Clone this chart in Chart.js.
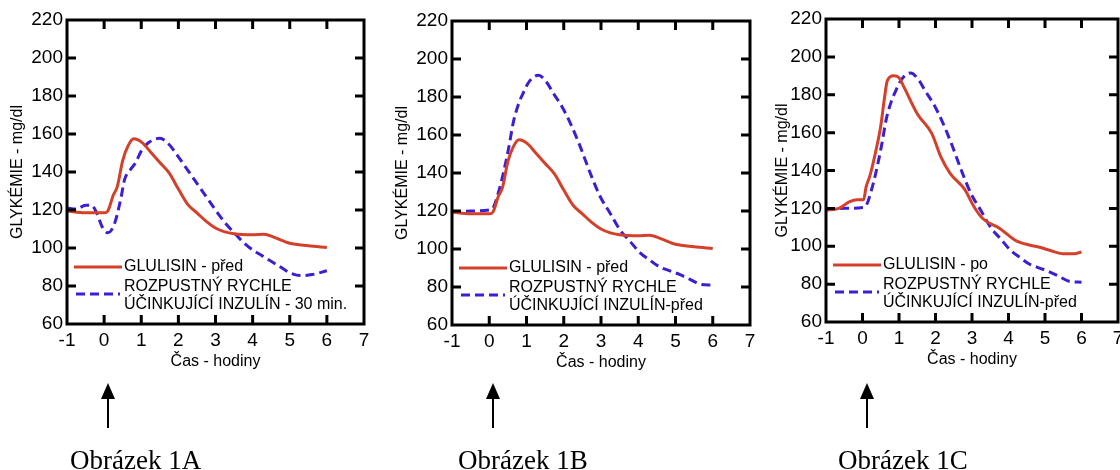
<!DOCTYPE html>
<html>
<head>
<meta charset="utf-8">
<script src="https://cdn.jsdelivr.net/npm/chart.js@4.4.1/dist/chart.umd.min.js"></script>
<style>
  html, body { margin: 0; padding: 0; background: #fff; }
  body { position: relative; width: 1120px; height: 470px; overflow: hidden; }
  canvas { position: absolute; top: 0; }
</style>
</head>
<body>
<canvas id="c0" width="380" height="470"></canvas>
<canvas id="c1" width="380" height="470"></canvas>
<canvas id="c2" width="380" height="470"></canvas>
<script>
// values (time in hours, glycaemia in mg/dl)
const glulisinPredT = [-1, -0.5, 0, 0.1, 0.25, 0.35, 0.5, 0.65, 0.8, 0.9, 1.05, 1.25, 1.5, 1.75, 2.0, 2.25, 2.5, 2.75, 3.0, 3.25, 3.5, 4.0, 4.3, 4.6, 5.0, 5.5, 6.0];
const glulisinPred  = [119.5, 118.5, 118.5, 119.5, 128, 132, 146, 154, 157.5, 157, 155, 150.5, 145, 139.5, 131, 123, 118.5, 114, 110.5, 108.5, 107.5, 107, 107.2, 105.5, 102.5, 101.2, 100.3];

const rozpustny30T = [-1, -0.75, -0.5, -0.35, -0.2, -0.05, 0.1, 0.2, 0.3, 0.45, 0.55, 0.7, 0.85, 1.0, 1.2, 1.5, 1.75, 2.0, 2.25, 2.5, 2.75, 3.0, 3.25, 3.5, 3.75, 4.0, 4.25, 4.5, 4.75, 5.0, 5.3, 5.6, 6.0];
const rozpustny30  = [121, 120.5, 122.5, 122.5, 118.5, 111, 108, 109.5, 114, 126, 136, 141, 145, 151, 155.5, 157.7, 154.5, 148, 141, 134, 127, 120, 113.5, 108, 103, 99, 96, 93, 90, 87, 85.5, 86, 88];

const rozpustnyPredT = [-1, -0.5, 0, 0.1, 0.25, 0.38, 0.52, 0.65, 0.79, 0.92, 1.05, 1.19, 1.32, 1.55, 1.72, 1.95, 2.17, 2.44, 2.71, 2.98, 3.24, 3.51, 3.78, 4.05, 4.32, 4.58, 4.85, 5.12, 5.39, 5.66, 6.0];
const rozpustnyPred  = [119.5, 120, 120.5, 121.5, 130, 140, 153, 167, 176.5, 182.5, 187.5, 190.5, 191.5, 187.5, 182, 175, 166.5, 154, 140, 127.5, 119, 110, 104, 98, 94, 90.5, 88.5, 86.5, 84, 81.5, 81];

const glulisinPoT = [-1, -0.65, -0.35, -0.15, 0.03, 0.1, 0.2, 0.35, 0.5, 0.6, 0.68, 0.85, 1.0, 1.15, 1.5, 1.9, 2.15, 2.4, 2.8, 3.05, 3.3, 3.75, 4.2, 4.6, 4.85, 5.1, 5.5, 5.8, 6.0];
const glulisinPo  = [119, 120, 123.5, 124.5, 124.5, 131.5, 137, 149, 163.5, 178, 187.5, 190, 189, 183.5, 170, 159.5, 147, 138.5, 130, 121, 114.5, 109.5, 103, 100.5, 99.5, 98, 96, 96, 97];

const xMin = -1, xMax = 7, xStep = 1;
const yMin = 60, yMax = 220, yStep = 20;

const redLine = 'rgb(212, 64, 42)';
const blueLine = 'rgb(60, 30, 212)';
const sans = '"Liberation Sans", Arial, sans-serif';

function pts(t, v) {
  return t.map((x, i) => ({x: x, y: v[i]}));
}
function redSet(label, t, v) {
  return {label: label, data: pts(t, v), borderColor: redLine, borderWidth: 3,
    pointRadius: 0, cubicInterpolationMode: 'monotone', fill: false};
}
function blueSet(label, t, v) {
  return {label: label, data: pts(t, v), borderColor: blueLine, borderWidth: 3,
    borderDash: [9, 5], pointRadius: 0, cubicInterpolationMode: 'monotone', fill: false};
}

const panels = [
  {id: 'c0', left: 0, plotLeft: 67, plotRight: 364, plotTop: 20, plotBottom: 324, titlePad: 9, caption: 'Obrázek 1A', capX: 70,
   sets: [redSet(['GLULISIN - před'], glulisinPredT, glulisinPred),
          blueSet(['ROZPUSTNÝ RYCHLE', 'ÚČINKUJÍCÍ INZULÍN - 30 min.'], rozpustny30T, rozpustny30)]},
  {id: 'c1', left: 385, plotLeft: 452, plotRight: 750, plotTop: 21, plotBottom: 325, titlePad: 9, caption: 'Obrázek 1B', capX: 458,
   sets: [redSet(['GLULISIN - před'], glulisinPredT, glulisinPred),
          blueSet(['ROZPUSTNÝ RYCHLE', 'ÚČINKUJÍCÍ INZULÍN-před'], rozpustnyPredT, rozpustnyPred)]},
  {id: 'c2', left: 759, plotLeft: 826, plotRight: 1118, plotTop: 19, plotBottom: 322, titlePad: 15, caption: 'Obrázek 1C', capX: 838,
   sets: [redSet(['GLULISIN - po'], glulisinPoT, glulisinPo),
          blueSet(['ROZPUSTNÝ RYCHLE', 'ÚČINKUJÍCÍ INZULÍN-před'], rozpustnyPredT, rozpustnyPred)]}
];

// box around plot with inward ticks on all four sides
const frameTicks = {
  id: 'frameTicks',
  afterDatasetsDraw(chart) {
    const {ctx, chartArea: a, scales: {x, y}} = chart;
    const len = 9;
    ctx.save();
    ctx.strokeStyle = '#000';
    ctx.lineWidth = 3;
    ctx.strokeRect(a.left, a.top, a.right - a.left, a.bottom - a.top);
    ctx.beginPath();
    x.ticks.forEach(t => {
      if (t.value <= x.min || t.value >= x.max) return;
      const px = x.getPixelForValue(t.value);
      ctx.moveTo(px, a.top); ctx.lineTo(px, a.top + len);
      ctx.moveTo(px, a.bottom); ctx.lineTo(px, a.bottom - len);
    });
    y.ticks.forEach(t => {
      if (t.value <= y.min || t.value >= y.max) return;
      const py = y.getPixelForValue(t.value);
      ctx.moveTo(a.left, py); ctx.lineTo(a.left + len, py);
      ctx.moveTo(a.right, py); ctx.lineTo(a.right - len, py);
    });
    ctx.stroke();
    ctx.restore();
  }
};

// legend in the lower left of the plot
const innerLegend = {
  id: 'innerLegend',
  afterDraw(chart) {
    const {ctx, chartArea: a} = chart;
    const rows = [{sy: -57, ty: [-57], x0: 7, x1: 55}, {sy: -30, ty: [-37, -19], x0: 9, x1: 53}];
    ctx.save();
    ctx.font = '16px ' + sans;
    ctx.fillStyle = '#000';
    ctx.textBaseline = 'middle';
    chart.data.datasets.forEach((ds, i) => {
      const r = rows[i];
      ctx.strokeStyle = ds.borderColor;
      ctx.lineWidth = 3;
      ctx.setLineDash(ds.borderDash || []);
      ctx.beginPath();
      ctx.moveTo(a.left + r.x0, a.bottom + r.sy);
      ctx.lineTo(a.left + r.x1, a.bottom + r.sy);
      ctx.stroke();
      ds.label.forEach((line, k) => {
        ctx.fillText(line, a.left + 57, a.bottom + r.ty[k]);
      });
    });
    ctx.restore();
  }
};

// arrow at time 0 and the caption under it
const arrowCaption = {
  id: 'arrowCaption',
  afterDraw(chart, args, opts) {
    const {ctx, scales: {x}} = chart;
    const ax = Math.round(x.getPixelForValue(0)) + 4;
    ctx.save();
    ctx.strokeStyle = '#000';
    ctx.fillStyle = '#000';
    ctx.lineWidth = 2;
    ctx.beginPath();
    ctx.moveTo(ax, 397); ctx.lineTo(ax, 428);
    ctx.stroke();
    ctx.beginPath();
    ctx.moveTo(ax, 383); ctx.lineTo(ax - 7, 399); ctx.lineTo(ax + 7, 399);
    ctx.closePath();
    ctx.fill();
    ctx.font = '27px "Liberation Serif", "Times New Roman", serif';
    ctx.textBaseline = 'alphabetic';
    ctx.fillText(opts.text, opts.x, 469);
    ctx.restore();
  }
};

panels.forEach(p => {
  const canvas = document.getElementById(p.id);
  canvas.style.left = p.left + 'px';
  new Chart(canvas, {
    type: 'line',
    data: {datasets: p.sets},
    options: {
      responsive: false,
      animation: false,
      events: [],
      layout: {padding: {left: 0, top: p.plotTop, right: 380 - (p.plotRight - p.left), bottom: 470 - p.plotBottom - 48}},
      plugins: {
        legend: {display: false},
        tooltip: {enabled: false},
        arrowCaption: {text: p.caption, x: p.capX - p.left}
      },
      scales: {
        x: {
          type: 'linear', min: xMin, max: xMax,
          ticks: {stepSize: xStep, color: '#000', padding: 5, font: {family: sans, size: 19}},
          grid: {display: false, drawTicks: false},
          border: {display: false},
          title: {display: true, text: 'Čas - hodiny', color: '#000', padding: {top: 0, bottom: 1}, font: {family: sans, size: 16}},
          afterFit: s => { s.height = 48; }
        },
        y: {
          min: yMin, max: yMax,
          ticks: {stepSize: yStep, color: '#000', padding: 4, font: {family: sans, size: 19}},
          grid: {display: false, drawTicks: false},
          border: {display: false},
          title: {display: true, text: 'GLYKÉMIE - mg/dl', color: '#000', padding: {top: p.titlePad - 1, bottom: 0}, font: {family: sans, size: 16}},
          afterFit: s => { s.width = p.plotLeft - p.left; }
        }
      }
    },
    plugins: [frameTicks, innerLegend, arrowCaption]
  });
});
</script>
</body>
</html>
